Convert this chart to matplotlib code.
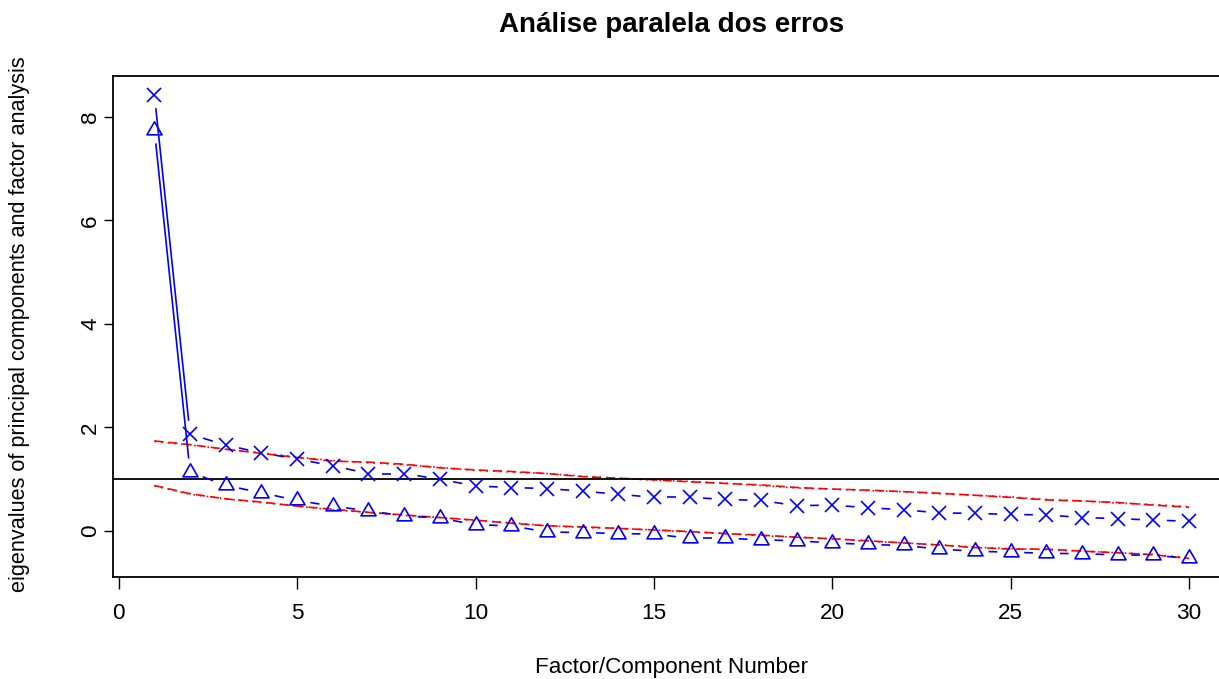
import numpy as np
import matplotlib
matplotlib.use("Agg")
import matplotlib.pyplot as plt
from matplotlib.path import Path

plt.rcParams['font.family'] = ['Liberation Sans', 'DejaVu Sans']

# Eigenvalues of the observed data
factor_number = list(range(1, 31))
pc_actual = [8.43, 1.87, 1.66, 1.51, 1.39, 1.26, 1.11, 1.11, 1.00, 0.87,
             0.84, 0.82, 0.77, 0.71, 0.65, 0.65, 0.61, 0.59, 0.49, 0.50,
             0.45, 0.41, 0.35, 0.34, 0.32, 0.31, 0.26, 0.24, 0.21, 0.19]
fa_actual = [7.75, 1.14, 0.88, 0.74, 0.59, 0.48, 0.39, 0.29, 0.25, 0.12,
             0.10, -0.02, -0.03, -0.05, -0.06, -0.14, -0.14, -0.17, -0.19, -0.23,
             -0.26, -0.28, -0.35, -0.39, -0.41, -0.43, -0.44, -0.46, -0.47, -0.53]

# Simulated (dashed) and resampled (dotted) reference eigenvalues
pc_simulated = [1.74, 1.67, 1.58, 1.50, 1.42, 1.35, 1.33, 1.29, 1.22, 1.18,
                1.15, 1.11, 1.05, 1.02, 0.99, 0.95, 0.92, 0.89, 0.84, 0.81,
                0.79, 0.76, 0.73, 0.69, 0.65, 0.60, 0.58, 0.55, 0.50, 0.46]
pc_resampled = [1.73, 1.66, 1.58, 1.51, 1.43, 1.36, 1.32, 1.28, 1.23, 1.17,
                1.14, 1.11, 1.06, 1.02, 0.98, 0.96, 0.92, 0.88, 0.83, 0.81,
                0.78, 0.76, 0.72, 0.69, 0.66, 0.61, 0.58, 0.54, 0.51, 0.47]
fa_simulated = [0.88, 0.72, 0.62, 0.56, 0.48, 0.42, 0.36, 0.31, 0.26, 0.21,
                0.15, 0.10, 0.08, 0.05, 0.02, -0.01, -0.05, -0.08, -0.12, -0.15,
                -0.19, -0.23, -0.27, -0.32, -0.35, -0.35, -0.39, -0.42, -0.46, -0.53]
fa_resampled = [0.87, 0.71, 0.62, 0.55, 0.48, 0.41, 0.36, 0.30, 0.26, 0.20,
                0.16, 0.10, 0.07, 0.05, 0.02, -0.02, -0.05, -0.09, -0.12, -0.15,
                -0.20, -0.23, -0.27, -0.31, -0.34, -0.36, -0.39, -0.42, -0.45, -0.52]

x_ticks = [0, 5, 10, 15, 20, 25, 30]
y_ticks = [0, 2, 4, 6, 8]

W, H = 1219, 679
fig = plt.figure(figsize=(W / 100, H / 100), dpi=100)
ax_left, ax_right, ax_top, ax_bottom = 113, 1230.5, 76, 577
ax = fig.add_axes([ax_left / W, 1 - ax_bottom / H,
                   (ax_right - ax_left) / W, (ax_bottom - ax_top) / H])
ax.set_xlim(-0.16, 31.16)
ax.set_ylim(-0.889, 8.792)

BLUE = '#0000FF'
RED = '#FF0000'
LW = 1.2

# reference lines
ax.plot(factor_number, pc_simulated, color=RED, lw=LW, dashes=(5.5, 3))
ax.plot(factor_number, fa_simulated, color=RED, lw=LW, dashes=(5.5, 3))
ax.plot(factor_number, pc_resampled, color=RED, lw=LW, dashes=(1, 3))
ax.plot(factor_number, fa_resampled, color=RED, lw=LW, dashes=(1, 3))
ax.axhline(1, color='black', lw=1.3)


def plot_type_b(xs, ys, marker, ms, gap_px=13.5):
    """Points joined by segments that stop short of each marker."""
    fig.canvas.draw()
    pts = ax.transData.transform(np.column_stack([xs, ys]))
    inv = ax.transData.inverted()
    for p0, p1 in zip(pts[:-1], pts[1:]):
        d = p1 - p0
        L = np.hypot(*d)
        if L <= 2 * gap_px:
            continue
        u = d / L
        a = inv.transform(p0 + u * gap_px)
        b = inv.transform(p1 - u * gap_px)
        ax.plot([a[0], b[0]], [a[1], b[1]], color=BLUE, lw=LW,
                solid_capstyle='butt')
    ax.plot(xs, ys, linestyle='none', marker=marker, ms=ms,
            markerfacecolor='none', markeredgecolor=BLUE, markeredgewidth=LW)


tri = Path([(0, 1), (0.866, -0.5), (-0.866, -0.5), (0, 1)],
           [Path.MOVETO, Path.LINETO, Path.LINETO, Path.CLOSEPOLY])
plot_type_b(factor_number, pc_actual, 'x', 9.5)
plot_type_b(factor_number, fa_actual, tri, 12.5)

FS = 16.2
ax.set_xticks(x_ticks)
ax.set_yticks(y_ticks)
ax.set_xticklabels([str(v) for v in x_ticks])
ax.set_yticklabels([str(v) for v in y_ticks])
ax.tick_params(direction='out', width=1.0, labelsize=FS, color='black')
ax.tick_params(axis='x', length=8.6, pad=10)
ax.tick_params(axis='y', length=6.5, pad=2)
for lab in ax.get_yticklabels():
    lab.set_rotation(90)
    lab.set_va('center')
    lab.set_ha('right')
for sp in ax.spines.values():
    sp.set_linewidth(1.3)

fig.text(671.5 / W, 1 - 25 / H, 'Análise paralela dos erros',
         ha='center', va='center', fontsize=20, fontweight='bold')
fig.text(671.5 / W, 1 - 668 / H, 'Factor/Component Number',
         ha='center', va='center', fontsize=FS)
fig.text(20 / W, 1 - 324 / H,
         'eigenvalues of principal components and factor analysis',
         ha='center', va='center', rotation=90, fontsize=15.6)

fig.savefig('out.png', dpi=100)
